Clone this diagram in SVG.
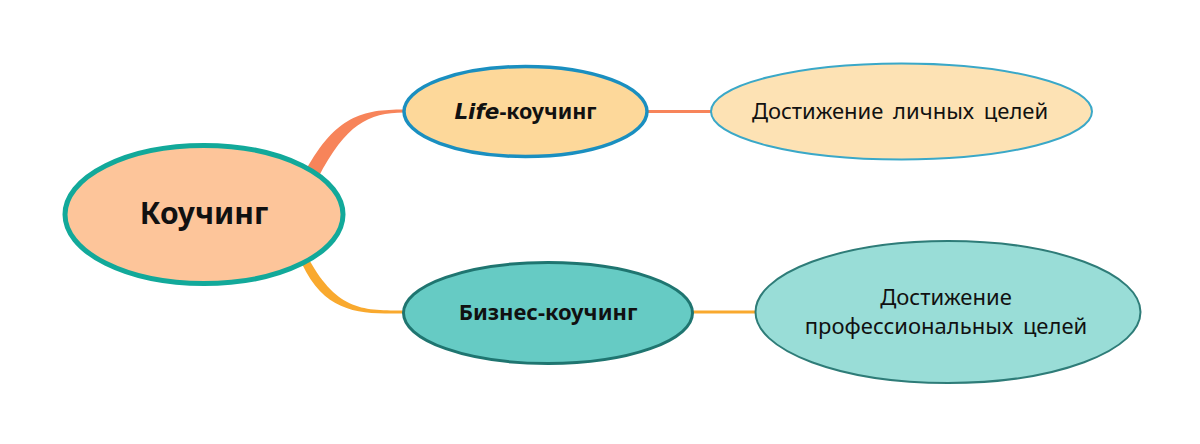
<svg xmlns="http://www.w3.org/2000/svg" width="1200" height="444" viewBox="0 0 1200 444">
<style>
text{font-family:"Noto Sans","Open Sans","DejaVu Sans",sans-serif;fill:#111;text-anchor:middle}
.b{font-weight:bold}
.r{font-size:22px;word-spacing:4px}
</style>
<rect width="1200" height="444" fill="#fff"/>
<g id="connectors">
<path d="M 306 170 C 336 116, 362 109.5, 404 109.5 L 404 112.5 C 368 113, 346 124, 318 178 Z" fill="#f7845a"/>
<path d="M 306 254 C 336 311, 362 310.5, 404 310.5 L 404 313.5 C 360 314, 326 314, 302 264 Z" fill="#f9a92e"/>
<line x1="646" y1="111.5" x2="712" y2="111.5" stroke="#f7845a" stroke-width="3"/>
<line x1="691" y1="312" x2="757" y2="312" stroke="#f9a92e" stroke-width="3"/>
</g>
<g id="node-center">
<ellipse cx="204" cy="214.5" rx="139" ry="69" fill="#fdc59a" stroke="#12a99a" stroke-width="5"/>
<text x="204" y="224" class="b" font-size="30">Коучинг</text>
</g>
<g id="node-life">
<ellipse cx="525.5" cy="111.5" rx="121.5" ry="45" fill="#fdd89a" stroke="#1a8fc0" stroke-width="3.5"/>
<text x="525.5" y="119" class="b" font-size="21.5"><tspan font-style="italic" font-family="'Comic Sans MS','DejaVu Sans',sans-serif">Life</tspan>-коучинг</text>
</g>
<g id="node-business">
<ellipse cx="548" cy="313" rx="144.5" ry="50.5" fill="#66cbc4" stroke="#1f7570" stroke-width="3"/>
<text x="548" y="320" class="b" font-size="22">Бизнес-коучинг</text>
</g>
<g id="node-personal">
<ellipse cx="901.5" cy="111.5" rx="190.5" ry="48" fill="#fde2b4" stroke="#3aa8c8" stroke-width="2"/>
<text x="900" y="119" class="r">Достижение личных целей</text>
</g>
<g id="node-professional">
<ellipse cx="948" cy="312" rx="192.5" ry="71" fill="#99ddd7" stroke="#2e7c78" stroke-width="2"/>
<text x="946" y="305" class="r">Достижение</text>
<text x="946" y="334" class="r">профессиональных целей</text>
</g>
</svg>
